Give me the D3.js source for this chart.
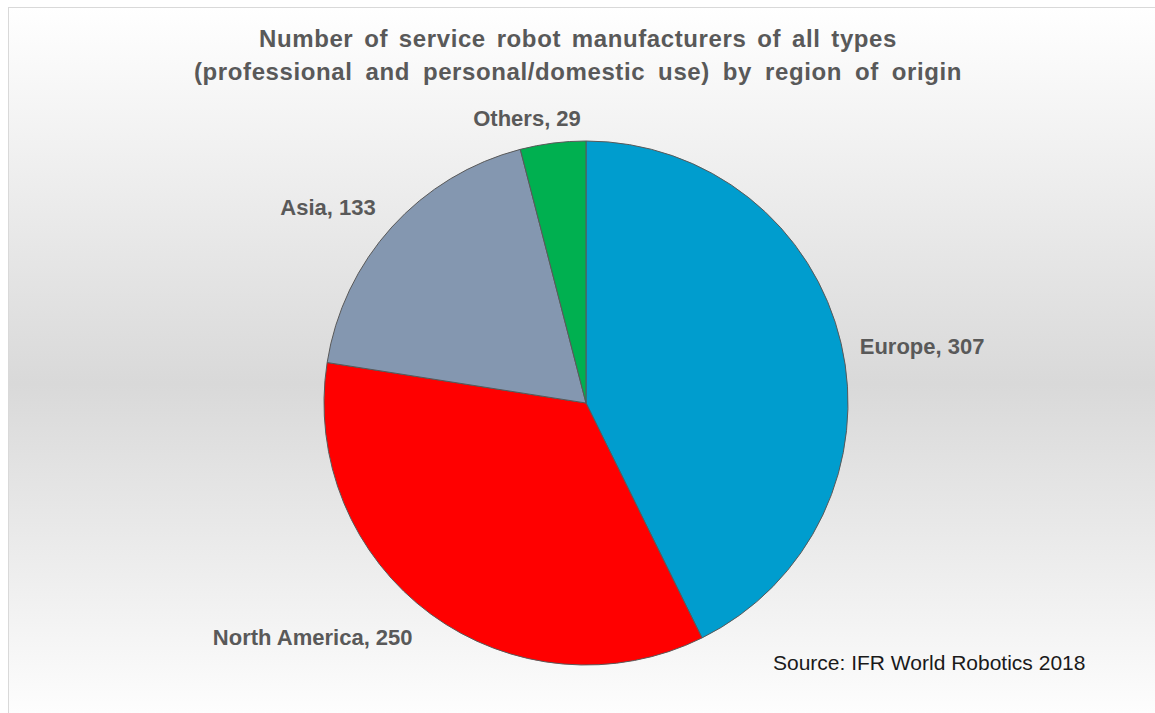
<!DOCTYPE html>
<html>
<head>
<meta charset="utf-8">
<script src="https://cdn.jsdelivr.net/npm/d3@7"></script>
<style>
  html, body { margin: 0; padding: 0; background: #ffffff; }
  svg { display: block; }
</style>
</head>
<body>
<div id="chart"></div>
<script>
// chart data
var regions = ["Europe", "North America", "Asia", "Others"];
var counts = [307, 250, 133, 29];
var sliceColors = ["#009dce", "#ff0000", "#8497b0", "#00b050"];

var titleLines = [
    "Number of service robot manufacturers of all types",
    "(professional and personal/domestic use) by region of origin"
];
var sourceText = "Source: IFR World Robotics 2018";

// Set SVG wrapper dimensions
var svgWidth = 1155;
var svgHeight = 713;

var cx = 586, cy = 403, radius = 262;

// label placement: point on circle at label radius along mid-angle, plus a nudge
var labelRadius = 340;
var labelNudge = [[5, 28], [-72, -32], [-6, 40], [-16, 60]];

// title widths in the original (excel spreads the text out a bit)
var titleWidths = [638, 768];
var titleLetterSpacing = 0.6;

var svg = d3.select("#chart")
    .append("svg")
    .attr("width", svgWidth)
    .attr("height", svgHeight);

// background gradient
var defs = svg.append("defs");
var grad = defs.append("linearGradient")
    .attr("id", "bg")
    .attr("x1", 0).attr("y1", 0)
    .attr("x2", 0).attr("y2", 1);
grad.append("stop").attr("offset", "0%").attr("stop-color", "#ffffff");
grad.append("stop").attr("offset", "52%").attr("stop-color", "#d9d9d9");
grad.append("stop").attr("offset", "100%").attr("stop-color", "#ffffff");

svg.append("rect")
    .attr("x", 8.5)
    .attr("y", 7.5)
    .attr("width", svgWidth)
    .attr("height", svgHeight + 10)
    .attr("fill", "url(#bg)")
    .attr("stroke", "#d9d9d9")
    .attr("stroke-width", 1);

// title
var titles = svg.append("g")
    .selectAll("text")
    .data(titleLines)
    .enter()
    .append("text")
    .attr("x", 578)
    .attr("y", (d, i) => 47 + i * 33)
    .attr("text-anchor", "middle")
    .attr("font-family", "Liberation Sans, Arial, sans-serif")
    .attr("font-weight", "bold")
    .attr("font-size", "24px")
    .attr("letter-spacing", titleLetterSpacing)
    .attr("fill", "#595959")
    .text(d => d);

// widen the word gaps so each line fills its width
titles.each(function(d, i) {
    var natural = this.getComputedTextLength();
    var gaps = d.split(" ").length - 1;
    var ws = Math.max(0, (titleWidths[i] - natural) / gaps);
    d3.select(this).attr("word-spacing", ws);
});

// pie
var pie = d3.pie().sort(null).value(d => d);
var arcs = pie(counts);

var arc = d3.arc().innerRadius(0).outerRadius(radius);

var pieGroup = svg.append("g")
    .attr("transform", `translate(${cx}, ${cy})`);

pieGroup.selectAll("path")
    .data(arcs)
    .enter()
    .append("path")
    .attr("d", arc)
    .attr("fill", (d, i) => sliceColors[i])
    .attr("stroke", "#595959")
    .attr("stroke-width", 1);

// data labels
pieGroup.selectAll("text.lbl")
    .data(arcs)
    .enter()
    .append("text")
    .attr("class", "lbl")
    .attr("x", (d, i) => {
        var a = (d.startAngle + d.endAngle) / 2;
        return Math.sin(a) * labelRadius + labelNudge[i][0];
    })
    .attr("y", (d, i) => {
        var a = (d.startAngle + d.endAngle) / 2;
        return -Math.cos(a) * labelRadius + labelNudge[i][1];
    })
    .attr("text-anchor", "middle")
    .attr("font-family", "Liberation Sans, Arial, sans-serif")
    .attr("font-weight", "bold")
    .attr("font-size", "22px")
    .attr("fill", "#595959")
    .text((d, i) => `${regions[i]}, ${d.value}`);

// source note
svg.append("text")
    .attr("x", 773)
    .attr("y", 670)
    .attr("font-family", "Liberation Sans, Arial, sans-serif")
    .attr("font-size", "21px")
    .attr("fill", "#1a1a1a")
    .text(sourceText);
</script>
</body>
</html>
